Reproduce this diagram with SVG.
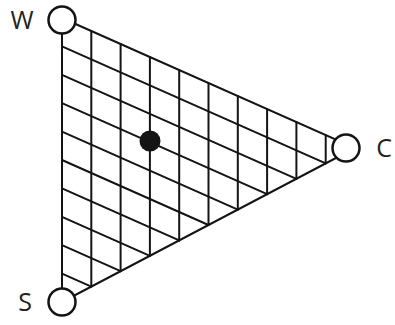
<svg xmlns="http://www.w3.org/2000/svg" width="395" height="325" viewBox="0 0 395 325">
<style>
.ln{stroke:#141414;stroke-width:2;fill:none;stroke-linecap:round}
.nd{fill:#fff;stroke:#141414;stroke-width:2.5}
.lb{font-family:"Open Sans","DejaVu Sans",sans-serif;font-size:25px;fill:#222}
</style>
<rect width="395" height="325" fill="#fff"/>
<g id="connectors">
<polygon class="ln" points="62,18 355,148 62,302"/>
<path class="ln" d="M91.3,31V286.6M120.6,44V271.2M149.9,57V255.8M179.2,70V240.4M208.5,83V225M237.8,96V209.6M267.1,109V194.2M296.4,122V178.8M325.7,135V163.4"/>
<path class="ln" d="M62,46.4L325.7,163.4M62,74.8L296.4,178.8M62,103.2L267.1,194.2M62,131.6L237.8,209.6M62,160L208.5,225M62,188.4L179.2,240.4M62,216.8L149.9,255.8M62,245.2L120.6,271.2M62,273.6L91.3,286.6"/>
</g>
<g id="node-W"><circle class="nd" cx="62" cy="20" r="13.5"/><text class="lb" x="22" y="29" text-anchor="middle">W</text></g>
<g id="node-S"><circle class="nd" cx="62" cy="302" r="13.5"/><text class="lb" x="25" y="311" text-anchor="middle">S</text></g>
<g id="node-C"><circle class="nd" cx="346" cy="148" r="13.5"/><text class="lb" x="384" y="157" text-anchor="middle">C</text></g>
<g id="point"><circle cx="150" cy="141" r="10.5" fill="#141414"/></g>
</svg>
